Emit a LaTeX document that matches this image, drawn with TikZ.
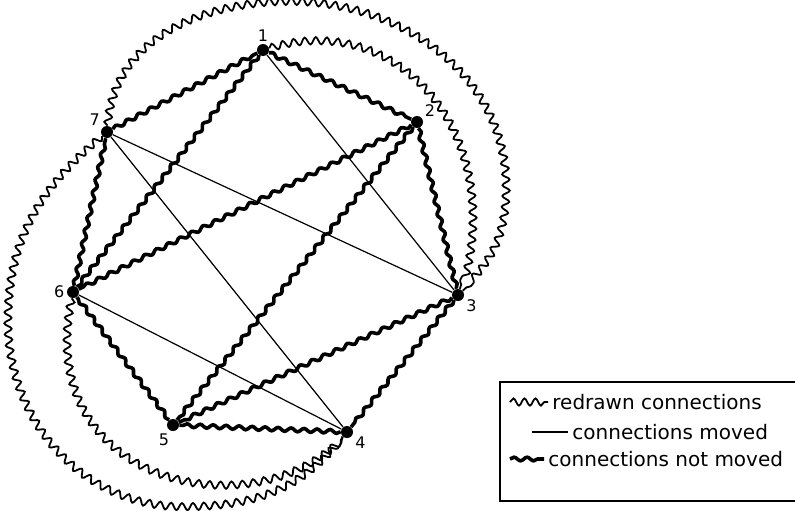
\documentclass[tikz,border=0pt]{standalone}
\usepackage{fontspec}
\setmainfont{DejaVu Sans}
\usetikzlibrary{decorations.pathmorphing,positioning}

\begin{document}
\begin{tikzpicture}[x=0.5pt, y=0.5pt,
  pin/.style={circle, fill=black, inner sep=0pt, minimum size=6pt,
              label distance=1.5pt},
  num/.style={inner sep=1pt, font=\fontsize{8}{9}\selectfont},
  redrawn/.style={decorate, decoration={snake, amplitude=1.8pt, segment length=5.5pt},
                  line width=0.9pt},
  moved/.style={line width=0.6pt},
  kept/.style={decorate, decoration={snake, amplitude=0.9pt, segment length=6.5pt},
               line width=1.8pt},
  legtext/.style={anchor=west, inner sep=2pt, font=\fontsize{10}{12}\selectfont}]
  \useasboundingbox (0,0) rectangle (795,510);

  \node[pin, label={[num]90:1}] (v1) at (263,460) {};
  \node[pin, label={[num]30:2}] (v2) at (417,388) {};
  \node[pin, label={[num]-22:3}] (v3) at (458,215) {};
  \node[pin, label={[num]-20:4}] (v4) at (347,78) {};
  \node[pin, label={[num]-105:5}] (v5) at (173,85) {};
  \node[pin, label={[num]180:6}] (v6) at (73,218) {};
  \node[pin, label={[num]140:7}] (v7) at (107,378) {};

  \draw[kept] (v1) -- (v2);
  \draw[kept] (v2) -- (v3);
  \draw[kept] (v3) -- (v4);
  \draw[kept] (v4) -- (v5);
  \draw[kept] (v5) -- (v6);
  \draw[kept] (v6) -- (v7);
  \draw[kept] (v7) -- (v1);
  \draw[kept] (v1) -- (v6);
  \draw[kept] (v2) -- (v6);
  \draw[kept] (v2) -- (v5);
  \draw[kept] (v3) -- (v5);

  \draw[moved] (v1) -- (v3);
  \draw[moved] (v7) -- (v3);
  \draw[moved] (v7) -- (v4);
  \draw[moved] (v6) -- (v4);

  \coordinate (t73a) at (290,506);
  \coordinate (t73b) at (506,320);
  \coordinate (b74a) at (10,190);
  \coordinate (b74b) at (185,5);
  \draw[redrawn] (v1) .. controls (400,500) and (505,370) .. (v3);
  \draw[redrawn] (v7) to[out=85,in=180] (t73a) to[out=0,in=90] (t73b)
                      to[out=-90,in=42] (v3);
  \draw[redrawn] (v6) .. controls (35,30) and (250,-20) .. (v4);
  \draw[redrawn] (v7) to[out=220,in=90] (b74a) to[out=-90,in=180] (b74b)
                      to[out=0,in=232] (v4);

  \draw[line width=0.6pt] (797,128) -- (500,128) -- (500,9) -- (797,9);
  \node[legtext] (lr) at (548,108) {redrawn connections};
  \node[legtext] (lm) at (568,78) {connections moved};
  \node[legtext] (lk) at (544,51) {connections not moved};
  \coordinate (sr) at (510,108);
  \coordinate (sm) at (532,78);
  \coordinate (sk) at (510,51);
  \draw[redrawn] (sr) -- (lr.west);
  \draw[moved] (sm) -- (lm.west);
  \draw[kept] (sk) -- (lk.west);
\end{tikzpicture}
\end{document}
